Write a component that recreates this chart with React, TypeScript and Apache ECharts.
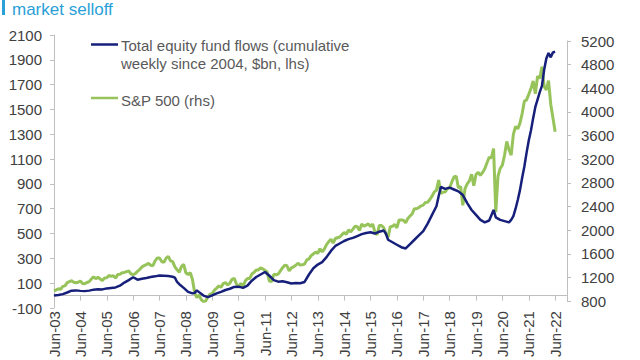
import React, { useEffect, useRef } from "react";
import * as echarts from "echarts";

// Total equity fund flows, cumulative weekly since 2004 ($bn, lhs)
const flowDates = [
  "2003-06","2003-08","2003-10","2003-12","2004-02","2004-04","2004-06","2004-08","2004-10","2004-12",
  "2005-02","2005-04","2005-06","2005-08","2005-10","2005-12","2006-02","2006-04","2006-06","2006-08",
  "2006-10","2006-12","2007-02","2007-04","2007-06","2007-08","2007-10","2007-12","2008-01","2008-02",
  "2008-03","2008-05","2008-07","2008-09","2008-10","2008-11","2008-12","2009-02","2009-04","2009-06",
  "2009-08","2009-10","2009-12","2010-02","2010-04","2010-06","2010-08","2010-10","2010-12","2011-02",
  "2011-04","2011-06","2011-08","2011-10","2011-12","2012-02","2012-04","2012-06","2012-08","2012-10",
  "2012-12","2013-02","2013-04","2013-06","2013-08","2013-10","2013-12","2014-02","2014-04","2014-06",
  "2014-08","2014-10","2014-12","2015-02","2015-04","2015-06","2015-08","2015-10","2015-12","2016-01",
  "2016-02","2016-04","2016-06","2016-08","2016-10","2016-12","2017-02","2017-04","2017-06","2017-08",
  "2017-10","2017-12","2018-01","2018-02","2018-04","2018-06","2018-08","2018-10","2018-12","2019-02",
  "2019-04","2019-06","2019-08","2019-10","2019-12","2020-02","2020-03","2020-05","2020-07","2020-09",
  "2020-10","2020-11","2020-12","2021-01","2021-02","2021-03","2021-04","2021-05","2021-06","2021-07",
  "2021-08","2021-09","2021-10","2021-11","2021-12","2022-01","2022-02","2022-03","2022-04","2022-05",
  "2022-06"
];
const flowValues = [
  0, 5, 12, 25, 40, 42, 38, 36, 40, 48,
  52, 50, 58, 62, 66, 80, 105, 125, 148, 128,
  135, 142, 150, 155, 162, 160, 158, 152, 145, 110,
  92, 62, 30, 18, 22, 42, 28, 0, -12, 2,
  18, 30, 45, 55, 70, 72, 62, 80, 120, 150,
  170, 190, 160, 125, 112, 115, 108, 98, 102, 100,
  110, 170, 220, 250, 270, 310, 360, 400, 420, 440,
  455, 465, 480, 495, 505, 510, 500, 515, 525, 500,
  450, 430, 410, 390, 380, 415, 450, 485, 520, 580,
  650, 720, 800, 875, 860, 870, 855, 840, 810, 745,
  690, 650, 610, 590, 605, 690, 630, 610, 600, 590,
  610, 640, 700, 770, 850, 950, 1040, 1150, 1250, 1330,
  1430, 1520, 1580, 1640, 1690, 1820, 1910, 1955, 1920, 1960,
  1965
];

// S&P 500 (rhs)
const spxYears = [2003, 2004, 2005, 2006, 2007, 2008, 2009, 2010, 2011, 2012, 2013, 2014, 2015, 2016, 2017, 2018, 2019, 2020, 2021, 2022];
const spx2003 = [975, 990, 1008, 1000, 1050, 1058, 1112]; // Jun-Dec
const spx2004 = [1131, 1145, 1120, 1110, 1120, 1141, 1100, 1095, 1115, 1130, 1174, 1212];
const spx2005 = [1181, 1204, 1175, 1150, 1192, 1195, 1234, 1220, 1229, 1190, 1249, 1255];
const spx2006 = [1280, 1285, 1300, 1311, 1260, 1250, 1265, 1304, 1336, 1378, 1401, 1418];
const spx2007 = [1438, 1407, 1400, 1482, 1531, 1530, 1470, 1455, 1527, 1557, 1481, 1468];
const spx2008 = [1379, 1331, 1290, 1386, 1420, 1280, 1250, 1283, 1166, 940, 860, 903];
const spx2009 = [826, 790, 800, 873, 919, 930, 987, 1021, 1057, 1036, 1096, 1115];
const spx2010 = [1074, 1104, 1169, 1187, 1089, 1031, 1102, 1049, 1141, 1183, 1181, 1258];
const spx2011 = [1286, 1327, 1326, 1364, 1345, 1321, 1292, 1140, 1131, 1253, 1247, 1258];
const spx2012 = [1312, 1366, 1408, 1398, 1310, 1362, 1379, 1407, 1441, 1412, 1416, 1426];
const spx2013 = [1498, 1515, 1569, 1598, 1631, 1606, 1686, 1633, 1682, 1757, 1806, 1848];
const spx2014 = [1783, 1859, 1872, 1884, 1924, 1960, 1931, 2003, 1972, 2018, 2068, 2059];
const spx2015 = [1995, 2105, 2068, 2086, 2107, 2063, 2104, 1972, 1920, 2079, 2080, 2044];
const spx2016 = [1940, 1880, 2060, 2065, 2097, 2040, 2174, 2171, 2168, 2126, 2199, 2239];
const spx2017 = [2279, 2364, 2363, 2384, 2412, 2423, 2470, 2472, 2519, 2575, 2648, 2674];
const spx2018 = [2850, 2620, 2641, 2648, 2705, 2718, 2816, 2902, 2914, 2712, 2740, 2420];
const spx2019 = [2704, 2784, 2834, 2946, 2752, 2942, 2980, 2926, 2977, 3038, 3141, 3231];
const spx2020 = [3226, 3380, 2305, 2912, 3044, 3100, 3271, 3500, 3363, 3270, 3622, 3756];
const spx2021 = [3714, 3811, 3973, 4181, 4204, 4298, 4395, 4523, 4308, 4605, 4567, 4766];
const spx2022 = [4430, 4374, 4530, 4132, 3900, 3666]; // Jan-Jun

const spxByYear = [spx2003, spx2004, spx2005, spx2006, spx2007, spx2008, spx2009, spx2010, spx2011, spx2012,
  spx2013, spx2014, spx2015, spx2016, spx2017, spx2018, spx2019, spx2020, spx2021, spx2022];

const xTickYears = [3, 4, 5, 6, 7, 8, 9, 10, 11, 12, 13, 14, 15, 16, 17, 18, 19, 20, 21, 22];

const title = "market selloff";
const legendFlow1 = "Total equity fund flows (cumulative";
const legendFlow2 = "weekly since 2004, $bn, lhs)";
const legendSpx = "S&P 500 (rhs)";

const BLUE = "#16207a";
const GREEN = "#97c35b";
const TITLE_BLUE = "#2a9fd8";
const AXIS = "#bfbfbf";
const LABEL = "#404040";
const FONT = "'Liberation Sans', Arial, sans-serif";

// years since Jun-2003
function toT(ym: string): number {
  const [y, m] = ym.split("-").map(Number);
  return y - 2003 + (m - 6) / 12;
}

export default function App() {
  const ref = useRef<HTMLDivElement>(null);

  useEffect(() => {
    document.body.style.margin = "0";
    if (!ref.current) return;
    const chart = echarts.init(ref.current, undefined, { renderer: "svg" });

    const flowData = flowDates.map((d, i) => [toT(d), flowValues[i]]);
    const spxData: number[][] = [];
    spxByYear.forEach((arr, yi) => {
      const year = spxYears[yi];
      const startMonth = year === 2003 ? 6 : 1;
      arr.forEach((v, k) => {
        const m = startMonth + k;
        spxData.push([toT(`${year}-${String(m).padStart(2, "0")}`), v]);
      });
    });

    const xMax = 19.45;
    const fmtX = (v: number) => {
      const r = Math.round(v);
      if (Math.abs(v - r) > 1e-6 || !xTickYears.includes(r + 3)) return "";
      return "Jun-" + String(r + 3).padStart(2, "0");
    };
    const fmtY = (v: number) => String(v);

    chart.setOption({
      animation: false,
      textStyle: { fontFamily: FONT },
      grid: [
        { left: 54, right: 73, top: 35, bottom: 52 },
        { left: 54, right: 73, top: 41, bottom: 52 },
      ],
      xAxis: [
        {
          type: "value", gridIndex: 0, min: 0, max: xMax, interval: 1,
          axisLine: { show: true, onZero: true, lineStyle: { color: AXIS, width: 1 } },
          axisTick: { show: true, length: 5, lineStyle: { color: AXIS } },
          axisLabel: { show: false },
          splitLine: { show: false },
        },
        {
          type: "value", gridIndex: 1, min: 0, max: xMax, interval: 1,
          axisLine: { show: false, onZero: false },
          axisTick: { show: false },
          axisLabel: { show: true, rotate: 90, margin: 10, fontSize: 15, color: LABEL, fontFamily: FONT, formatter: fmtX },
          splitLine: { show: false },
        },
      ],
      yAxis: [
        {
          type: "value", gridIndex: 0, position: "left", min: -100, max: 2100, interval: 200,
          axisLine: { show: true, onZero: false, lineStyle: { color: AXIS, width: 1 } },
          axisTick: { show: true, length: 4, lineStyle: { color: AXIS } },
          axisLabel: { margin: 12, fontSize: 15, color: LABEL, fontFamily: FONT, formatter: fmtY },
          splitLine: { show: false },
        },
        {
          type: "value", gridIndex: 1, position: "right", min: 800, max: 5200, interval: 400,
          axisLine: { show: true, onZero: false, lineStyle: { color: AXIS, width: 1 } },
          axisTick: { show: true, length: 4, lineStyle: { color: AXIS } },
          axisLabel: { margin: 14, fontSize: 15, color: LABEL, fontFamily: FONT, formatter: fmtY },
          splitLine: { show: false },
        },
      ],
      series: [
        {
          name: legendSpx, type: "line", xAxisIndex: 1, yAxisIndex: 1, data: spxData,
          showSymbol: false, symbol: "none", z: 2,
          lineStyle: { color: GREEN, width: 3 },
        },
        {
          name: "Total equity fund flows", type: "line", xAxisIndex: 0, yAxisIndex: 0, data: flowData,
          showSymbol: false, symbol: "none", z: 3,
          lineStyle: { color: BLUE, width: 2.5 },
        },
      ],
      graphic: [
        { type: "rect", left: 2, top: 0, shape: { x: 0, y: 0, width: 3, height: 15 }, style: { fill: TITLE_BLUE } },
        { type: "text", x: 12, y: 9, style: { text: title, fill: TITLE_BLUE, font: `17px ${FONT}`, verticalAlign: "middle", align: "left" } },
        { type: "line", shape: { x1: 91, y1: 44.5, x2: 118, y2: 44.5 }, style: { stroke: BLUE, lineWidth: 2.5 } },
        { type: "text", x: 121, y: 45, style: { text: legendFlow1, fill: "#595959", font: `15px ${FONT}`, verticalAlign: "middle", align: "left" } },
        { type: "text", x: 121, y: 63, style: { text: legendFlow2, fill: "#595959", font: `15px ${FONT}`, verticalAlign: "middle", align: "left" } },
        { type: "line", shape: { x1: 91, y1: 98, x2: 118, y2: 98 }, style: { stroke: GREEN, lineWidth: 2.5 } },
        { type: "text", x: 121, y: 100, style: { text: legendSpx, fill: "#595959", font: `15px ${FONT}`, verticalAlign: "middle", align: "left" } },
      ],
    });

    return () => chart.dispose();
  }, []);

  return <div ref={ref} style={{ width: 640, height: 360 }} />;
}
